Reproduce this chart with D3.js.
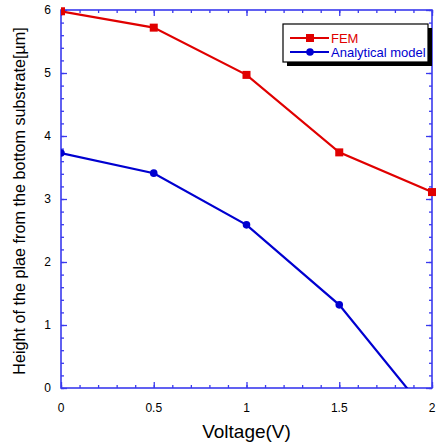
<!DOCTYPE html>
<html><head><meta charset="utf-8">
<script src="https://cdn.jsdelivr.net/npm/d3@7"></script>
<style>body{margin:0;background:#fff}svg{display:block}</style>
</head><body>
<script>
const voltage = [0, 0.5, 1, 1.5, 2];
const femValues = [5.98, 5.72, 4.97, 3.74, 3.11];
const analyticalValues = [3.73, 3.41, 2.59, 1.32, -0.49];
const xTicks = [0, 0.5, 1, 1.5, 2];
const xTickLabels = ["0", "0.5", "1", "1.5", "2"];
const yTicks = [0, 1, 2, 3, 4, 5, 6];
const seriesNames = ["FEM", "Analytical model"];

const W = 436, H = 443;
const m = {l: 61, r: 4, t: 10, b: 55};
const svg = d3.select("body").append("svg").attr("width", W).attr("height", H);
const x = d3.scaleLinear().domain([0, 2]).range([m.l, W - m.r]);
const y = d3.scaleLinear().domain([0, 6]).range([H - m.b, m.t]);
const axisColor = "#3a3aee";
const red = "#e00000", blue = "#0000d0";
const font = "Liberation Sans, Arial, sans-serif";

svg.append("defs").append("clipPath").attr("id", "clip")
  .append("rect").attr("x", m.l).attr("y", m.t - 5).attr("width", x(2) - m.l + 5).attr("height", y(0) - m.t + 5);

function tickAxis(axisFn, scale, major, minorStep, transform) {
  const minor = d3.range(scale.domain()[0], scale.domain()[1] + 1e-9, minorStep);
  const gMin = svg.append("g").attr("transform", transform)
    .call(axisFn(scale).tickValues(minor).tickSize(3).tickFormat(""));
  const gMaj = svg.append("g").attr("transform", transform)
    .call(axisFn(scale).tickValues(major).tickSize(6).tickFormat(""));
  [gMin, gMaj].forEach(g => {
    g.selectAll("path").remove();
    g.selectAll("line").attr("stroke", axisColor).attr("stroke-width", 1.3);
  });
}
tickAxis(d3.axisTop, x, xTicks, 0.1, `translate(0,${y(0)})`);
tickAxis(d3.axisBottom, x, xTicks, 0.1, `translate(0,${y(6)})`);
tickAxis(d3.axisRight, y, yTicks, 0.2, `translate(${x(0)},0)`);
tickAxis(d3.axisLeft, y, yTicks, 0.2, `translate(${x(2)},0)`);

svg.append("rect").attr("x", x(0)).attr("y", y(6)).attr("width", x(2) - x(0)).attr("height", y(0) - y(6))
  .attr("fill", "none").attr("stroke", axisColor).attr("stroke-width", 1.6);

svg.append("g").selectAll("text").data(xTicks).join("text")
  .attr("x", d => x(d)).attr("y", y(0) + 24).attr("text-anchor", "middle")
  .attr("font-family", font).attr("font-size", 12).text((d, i) => xTickLabels[i]);
svg.append("g").selectAll("text").data(yTicks).join("text")
  .attr("x", x(0) - 10).attr("y", d => y(d) + 4).attr("text-anchor", "end")
  .attr("font-family", font).attr("font-size", 12).text(d => d);

svg.append("text").attr("x", (x(0) + x(2)) / 2).attr("y", 438).attr("text-anchor", "middle")
  .attr("font-family", font).attr("font-size", 19).text("Voltage(V)");
svg.append("text").attr("transform", `translate(25,${(y(0) + y(6)) / 2 + 2}) rotate(-90)`)
  .attr("text-anchor", "middle").attr("font-family", font).attr("font-size", 16.2)
  .text("Height of the plae from the bottom substrate[\u00b5m]");

const line = d3.line().x((d, i) => x(voltage[i])).y(d => y(d));
const plot = svg.append("g").attr("clip-path", "url(#clip)");
plot.append("path").datum(analyticalValues).attr("d", line).attr("fill", "none").attr("stroke", blue).attr("stroke-width", 2.2);
plot.append("path").datum(femValues).attr("d", line).attr("fill", "none").attr("stroke", red).attr("stroke-width", 2.2);
plot.selectAll(".c").data(analyticalValues.filter(v => v >= 0)).join("circle")
  .attr("cx", (d, i) => x(voltage[i])).attr("cy", d => y(d)).attr("r", 3.8).attr("fill", blue);
plot.selectAll(".s").data(femValues).join("rect")
  .attr("x", (d, i) => x(voltage[i]) - 4).attr("y", d => y(d) - 4).attr("width", 8).attr("height", 8).attr("fill", red);

const lg = svg.append("g");
lg.append("rect").attr("x", 287).attr("y", 28).attr("width", 145).attr("height", 38).attr("fill", "#000");
lg.append("rect").attr("x", 283).attr("y", 24).attr("width", 145).attr("height", 38).attr("fill", "#fff").attr("stroke", "#000").attr("stroke-width", 1.2);
const items = [{name: seriesNames[0], c: red, sym: "sq", yy: 38}, {name: seriesNames[1], c: blue, sym: "ci", yy: 52}];
items.forEach(it => {
  lg.append("line").attr("x1", 290).attr("x2", 329).attr("y1", it.yy).attr("y2", it.yy).attr("stroke", it.c).attr("stroke-width", 2.2);
  if (it.sym === "sq") lg.append("rect").attr("x", 306).attr("y", it.yy - 4).attr("width", 8).attr("height", 8).attr("fill", it.c);
  else lg.append("circle").attr("cx", 310).attr("cy", it.yy).attr("r", 3.8).attr("fill", it.c);
  lg.append("text").attr("x", 331).attr("y", it.yy + 4.5).attr("font-family", font).attr("font-size", 13).attr("fill", it.c).text(it.name);
});
</script>
</body></html>
